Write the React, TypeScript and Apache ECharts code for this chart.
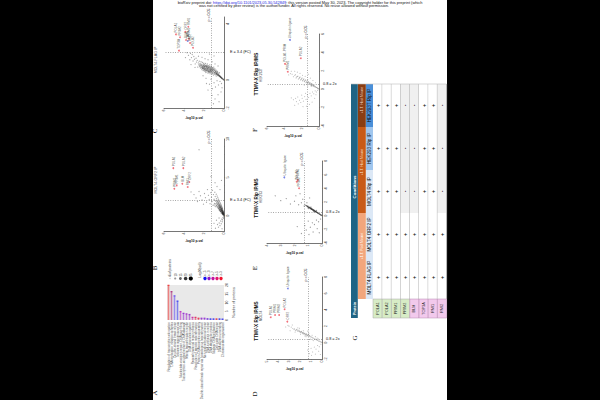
import React, { useEffect, useRef } from "react";
import * as echarts from "echarts";

const FONT = "Liberation Sans";

// ---- panel C (FLAG IP): [-log10 p, log2 FC]
const cloudC = [
  [0.02,0.0],[0.05,0.02],[0.08,0.05],[0.1,0.06],[0.13,0.08],[0.16,0.1],[0.19,0.13],[0.22,0.14],[0.25,0.16],[0.28,0.19],[0.31,0.22],[0.34,0.2],[0.37,0.25],[0.4,0.27],[0.43,0.3],[0.46,0.26],[0.5,0.33],
  [0.45,0.52],[0.52,0.41],[0.55,0.36],[0.58,0.49],[0.61,0.31],[0.64,0.58],[0.67,0.44],[0.7,0.37],[0.72,0.65],[0.75,0.52],[0.78,0.28],[0.8,0.47],[0.82,0.72],[0.85,0.6],[0.87,0.38],[0.9,0.55],[0.92,0.81],[0.94,0.43],[0.97,0.68],[1.0,0.5],
  [1.02,0.92],[1.05,0.35],[1.07,0.75],[1.1,0.62],[1.12,0.46],[1.15,0.88],[1.17,0.56],[1.2,0.7],[1.22,0.41],[1.25,1.0],[1.27,0.64],[1.3,0.79],[1.32,0.52],[1.35,0.93],[1.37,0.68],[1.4,0.44],[1.42,1.08],[1.45,0.76],[1.47,0.6],[1.5,0.87],
  [1.52,0.55],[1.55,1.02],[1.57,0.72],[1.6,0.49],[1.62,0.95],[1.65,0.66],[1.67,1.14],[1.7,0.8],[1.72,0.58],[1.75,1.0],[1.77,0.71],[1.8,0.9],[1.82,0.53],[1.85,1.18],[1.87,0.77],[1.9,0.98],[1.92,0.65],[1.95,1.1],[1.97,0.84],[2.0,0.72],
  [2.02,1.2],[2.05,0.93],[2.08,0.67],[2.1,1.05],[2.13,0.82],[2.16,1.25],[2.18,0.98],[2.21,0.74],[2.24,1.12],[2.27,0.9],[2.3,1.3],[2.33,1.03],[2.36,0.85],[2.4,1.18],[2.44,0.96],[2.48,1.34],[2.52,1.08],[2.57,1.22],[2.62,0.92],[2.68,1.4],
  [2.75,1.28],[2.8,1.55],[2.88,1.15],[2.95,1.48],[3.02,1.68],[3.1,1.36],[3.18,1.82],[3.25,1.6],[3.35,1.9],[3.42,1.45],[3.55,1.76],[3.7,1.95],[3.85,1.6],
  [2.2,1.62],[2.55,1.7],[1.9,1.52],[1.6,1.45],[1.2,1.3],[0.9,1.15],[0.6,1.0],[2.9,0.9],[3.3,1.1],[1.0,1.72],[1.45,1.85],
  [0.25,-0.25],[0.4,-0.1],[0.55,-0.35],[0.7,-0.05],[0.85,-0.5],[1.0,-0.2],[1.15,-0.62],[1.3,0.05],[1.45,-0.3],[1.6,-0.72],[1.8,0.12],[0.3,-0.85],[0.6,-1.05],[0.9,-1.35],[1.2,-1.1],[0.5,-1.55],[1.05,-1.7],[0.2,-0.55],[1.75,-0.25],[2.1,0.3],
  [0.62,0.42],[0.68,0.55],[0.74,0.4],[0.79,0.61],[0.84,0.5],[0.89,0.66],[0.93,0.53],[0.98,0.74],[1.03,0.58],[1.08,0.83],[1.13,0.67],[1.18,0.51],[1.23,0.77],[1.28,0.58],[1.33,0.86],[1.38,0.71],[1.43,0.55],[1.48,0.96],[1.53,0.81],[1.58,0.63],[1.63,0.75],[1.68,0.92],[1.73,0.69],[1.78,1.06],[1.83,0.82],[1.88,0.62],[1.93,0.92],[1.98,1.02],[2.03,0.79],[2.08,1.13],[2.14,0.91],[2.19,0.84],[2.25,1.04],[2.31,0.95],[2.37,1.12],[2.43,1.06],
  [1.11,0.72],[1.21,0.86],[1.31,0.69],[1.41,0.83],[1.51,0.7],[1.61,0.86],[1.71,0.73],[1.81,0.97],[1.91,0.8],[2.01,0.88],[2.11,0.97],[1.36,0.6],[1.46,0.92],[1.56,0.61],[1.66,1.02],[1.76,0.85],[1.86,1.04],[1.96,0.74],[2.06,1.02],[2.16,0.86],[1.16,0.78],[1.26,0.92],[1.56,0.9],[1.74,0.95],[1.94,0.96],[1.44,0.65],[1.64,0.83],[1.84,0.7],[2.04,0.84],[1.34,0.77],
  [0.24,0.11],[0.3,0.16],[0.36,0.22],[0.41,0.23],[0.47,0.31],[0.53,0.3],[0.59,0.38],[0.65,0.36],[0.71,0.44],[0.76,0.46],
];
const hitsC: any[] = [
  ["POLA1",4.8,3.26,"r"],["PRIM2",4.4,3.05,"r"],["TOP3A",4.5,2.1,"r"],["ORF2",3.87,3.45,"r"],["RMI1",3.57,3.8,"r"],
  ["BLM",3.8,2.86,"r"],["PRIM1",3.5,2.95,"r"],["CAPN",3.63,2.78,"b"],["RMI2",3.4,2.64,"r"],["POLA2",3.1,2.3,"r"],
];

// ---- panel B (ORF2 IP)
const cloudB = [
  [0.01,0.0],[0.03,0.1],[0.05,0.2],[0.04,0.32],[0.07,0.42],[0.06,0.55],[0.09,0.28],[0.1,0.65],[0.11,0.12],[0.12,0.48],[0.13,0.78],[0.14,0.35],[0.15,0.92],[0.16,0.58],[0.18,0.22],[0.18,1.05],[0.2,0.72],[0.21,0.44],[0.22,1.18],[0.23,0.86],[0.25,1.3],[0.26,0.6],[0.27,1.0],[0.28,0.33],[0.3,1.42],[0.31,0.8],[0.32,1.15],[0.34,1.55],[0.35,0.55],[0.36,0.95],[0.38,1.28],[0.39,1.7],[0.4,0.7],[0.42,1.08],[0.44,1.45],[0.45,1.85],[0.47,0.88],[0.48,1.22],[0.5,2.0],[0.52,1.6],[0.53,1.0],[0.55,1.36],[0.57,2.15],[0.58,1.78],[0.6,1.15],[0.62,2.35],[0.64,1.5],[0.66,1.95],[0.68,2.55],[0.7,1.25],[0.72,1.7],[0.75,2.2],[0.78,2.8],[0.8,1.4],[0.85,1.9],[0.88,2.5],[0.92,3.05],[0.95,1.6],[1.0,2.15],[1.05,2.75],[1.1,1.35],[1.15,3.3],[1.2,1.85],[1.25,2.4],[1.32,3.0],[1.4,1.55],[1.48,2.1],[1.55,2.65],[1.65,3.4],[1.75,1.75],[1.85,2.35],[1.95,2.9],[2.05,1.5],[2.2,2.05],[2.35,2.6],[2.5,3.15],[2.65,1.85],[2.8,2.3],[3.0,2.75],[3.3,3.1],[0.4,3.4],[0.7,3.8],[0.25,4.6],[0.9,4.3],[1.3,5.1],[2.5,8.6],
  [0.03,-0.15],[0.06,-0.35],[0.1,-0.25],[0.14,-0.55],[0.18,-0.8],[0.22,-0.45],[0.28,-1.05],[0.33,-0.7],[0.4,-1.3],[0.48,-0.95],[0.55,-1.5],[0.65,-1.15],[0.75,-0.6],[0.85,-1.65],[1.0,-1.0],[0.2,-1.7],[0.5,-0.3],
  [0.02,0.18],[0.04,0.06],[0.06,0.14],[0.08,0.26],[0.09,0.38],[0.11,0.3],[0.12,0.2],[0.13,0.55],[0.15,0.42],[0.16,0.27],[0.17,0.68],[0.19,0.5],[0.2,0.36],[0.22,0.62],[0.23,0.78],[0.24,0.46],[0.26,0.92],[0.27,0.7],[0.29,0.54],[0.3,1.06],[0.31,0.62],[0.33,0.85],[0.34,1.22],[0.36,0.72],[0.37,1.02],[0.38,0.6],[0.41,1.36],[0.43,0.82],[0.45,1.16],[0.46,0.66],[0.49,1.5],[0.51,0.95],[0.54,1.25],[0.56,1.66],[0.59,0.98],[0.61,1.42],[0.63,1.82],[0.67,1.1],[0.7,1.58],[0.74,1.3],[0.77,1.9],[0.82,1.55],[0.87,1.18],[0.93,2.0],[0.98,1.4],
  [0.03,0.24],[0.05,0.38],[0.07,0.2],[0.08,0.5],[0.1,0.15],[0.11,0.44],[0.13,0.32],[0.14,0.66],[0.16,0.44],[0.17,0.86],[0.19,0.32],[0.21,0.98],[0.24,0.7],[0.28,0.85],[0.32,0.5],[0.35,1.1],[0.39,0.85],[0.43,1.3],[0.47,1.05],[0.5,0.8],
];
const hitsB: any[] = [
  ["POLA1",5.07,6.2,"r"],["POLA2",4.07,6.2,"r"],["ORF2",3.47,4.4,"r"],["BLM",4.17,4.17,"r"],
  ["PRIM1",4.73,3.95,"r"],["PRIM2",4.97,3.5,"r"],["RMI1",3.63,3.73,"r"],
];

// ---- panel F (HEK293T Rip IP)
const cloudF = [
  [0.03,0.03],[0.08,0.05],[0.13,0.1],[0.18,0.12],[0.24,0.17],[0.3,0.2],[0.36,0.18],[0.42,0.28],[0.48,0.3],[0.55,0.26],[0.62,0.4],[0.7,0.36],[0.78,0.48],[0.85,0.42],[0.93,0.6],[1.0,0.52],[1.08,0.68],[1.15,0.55],[1.24,0.75],[1.32,0.62],[1.4,0.85],[1.5,0.7],[1.6,0.95],[1.7,0.82],[1.8,1.05],[1.9,0.9],[2.0,1.15],[2.12,1.0],[2.25,1.25],[2.38,1.1],[2.5,1.38],[2.65,1.22],[2.8,1.5],[2.95,1.35],[3.1,1.62],[3.3,1.7],
  [0.4,0.7],[0.7,0.95],[1.0,1.2],[1.3,1.05],[1.6,1.4],[1.9,1.5],[2.2,1.72],[2.5,1.85],[2.8,1.95],[3.2,1.95],[3.5,1.55],[1.2,1.62],[0.9,0.3],[1.3,0.35],[1.7,0.45],
  [0.15,-0.12],[0.3,-0.3],[0.45,-0.18],[0.6,-0.5],[0.75,-0.3],[0.9,-0.72],[1.05,-0.45],[1.2,-0.9],[1.35,-0.62],[1.5,-1.1],[1.65,-0.8],[1.8,-1.3],[1.95,-1.0],[2.1,-1.45],[2.25,-1.2],[2.4,-1.6],[2.6,-1.35],[2.8,-1.75],[2.95,-1.15],[0.5,-1.0],[0.8,-1.4],[1.1,-1.65],[1.45,-1.85],[1.85,-1.9],[3.2,-0.95],[2.45,-0.85],
  [0.56,0.42],[0.66,0.33],[0.74,0.55],[0.82,0.4],[0.88,0.62],[0.96,0.45],[1.04,0.72],[1.12,0.6],[1.2,0.82],[1.28,0.7],[1.36,0.92],[1.45,0.76],[1.55,1.02],[1.65,0.88],[1.75,1.12],[1.85,0.96],[1.95,1.22],[2.06,1.06],[2.18,1.32],[2.3,1.18],[2.44,1.42],[2.58,1.32],[2.72,1.58],[0.35,-0.6],[1.55,-0.45],[2.0,-0.65],[2.7,-1.0],
];
const hitsF: any[] = [
  ["Ubiquitin ligase",3.35,5.36,"b"],["POLA2",2.1,3.37,"r"],["POLA1-PRIM",3.92,2.75,"r"],["PRIM1",3.6,1.9,"r"],
];

// ---- panel E (HEK293 Rip IP)
const cloudE = [
  [0.02,0.02],[0.05,0.06],[0.08,0.1],[0.1,0.13],[0.13,0.17],[0.16,0.2],[0.19,0.24],[0.21,0.27],[0.24,0.31],[0.27,0.34],[0.3,0.38],[0.32,0.41],[0.35,0.45],[0.38,0.48],[0.41,0.52],[0.43,0.55],[0.46,0.59],[0.49,0.62],[0.52,0.66],[0.54,0.69],[0.57,0.73],[0.6,0.76],[0.63,0.8],[0.65,0.83],[0.68,0.87],[0.71,0.9],[0.74,0.94],[0.76,0.97],[0.79,1.01],[0.82,1.04],[0.85,1.08],[0.87,1.11],[0.9,1.15],[0.93,1.18],[0.96,1.22],[1.0,1.27],[1.04,1.31],[1.08,1.37],[1.13,1.44],[1.18,1.5],[1.24,1.58],
  [0.4,0.75],[0.6,0.58],[0.8,1.25],[1.0,1.05],[1.3,1.4],[1.5,1.9],[1.7,1.6],[2.0,2.1],[2.3,1.7],[2.6,2.5],[3.0,2.2],[1.4,2.4],[1.1,1.9],[0.9,2.6],[1.9,2.9],[1.6,3.2],[3.4,2.9],
  [0.1,-0.5],[0.25,-0.9],[0.4,-0.65],[0.55,-1.3],[0.7,-1.05],[0.85,-1.7],[1.0,-0.8],[1.15,-2.1],[1.25,-1.45],[0.35,-1.9],[0.65,-2.4],[0.95,-2.75],[0.2,-2.5],[1.5,-2.6],[1.8,-1.6],
  [0.31,0.42],[0.37,0.52],[0.44,0.61],[0.5,0.69],[0.56,0.79],[0.62,0.86],[0.69,0.95],[0.75,1.03],[0.81,1.11],[0.88,1.19],[0.94,1.27],[1.02,1.37],[1.1,1.47],[0.48,0.57],[0.58,0.69],[0.67,0.82],[0.77,0.92],[0.86,1.02],[0.97,1.16],[1.06,1.3],
];
const hitsE: any[] = [
  ["Ubiquitin ligase",2.74,5.6,"b"],["POLA1",1.77,5.2,"r"],["POLA2",1.84,4.97,"r"],["PRIM1",1.67,4.0,"r"],
];

// ---- panel D (MOLT4 Rip IP)
const cloudD = [
  [0.03,0.02],[0.1,0.08],[0.18,0.12],[0.25,0.18],[0.32,0.2],[0.4,0.28],[0.48,0.33],[0.55,0.36],[0.62,0.43],[0.7,0.47],[0.78,0.55],[0.85,0.58],[0.92,0.65],[1.0,0.7],[1.08,0.72],[1.15,0.8],[1.22,0.82],[1.3,0.9],[1.38,0.92],[1.45,1.0],[1.52,1.03],[1.6,1.1],[1.68,1.12],[1.75,1.2],[1.82,1.22],[1.9,1.3],[1.98,1.33],[2.05,1.4],[2.15,1.42],[2.25,1.52],[2.35,1.55],[2.5,1.68],[2.65,1.72],[2.8,1.88],[3.0,2.0],[3.1,2.1],
  [0.6,0.72],[0.9,0.9],[1.2,1.12],[1.45,0.72],[1.7,1.45],[1.95,1.02],[2.2,1.8],[2.45,1.28],[2.7,2.15],[3.3,1.9],[0.45,0.55],[1.05,0.42],[1.55,0.8],[2.05,1.75],[1.3,1.4],[0.8,0.25],[0.35,0.45],[2.9,1.45],
  [0.1,-0.2],[0.25,-0.5],[0.4,-0.35],[0.55,-0.8],[0.7,-0.55],[0.85,-1.15],[1.0,-0.7],[1.15,-1.35],[0.3,-1.05],[0.6,-1.4],[0.95,-1.55],[1.3,-0.9],[0.15,-1.45],
  [1.12,0.86],[1.26,0.96],[1.34,0.84],[1.42,1.06],[1.48,0.92],[1.56,1.14],[1.64,1.02],[1.72,1.24],[1.79,1.1],[1.86,1.36],[1.94,1.22],[2.02,1.3],[2.1,1.52],[2.2,1.38],[2.3,1.62],[2.4,1.46],[2.55,1.58],
];
const hitsD: any[] = [
  ["Ubiquitin ligase",3.1,6.6,"b"],["POLA2",3.4,4.06,"r"],["PRIM1",4.27,3.37,"r"],["PRIM2",3.9,3.37,"r"],
  ["POLA1",4.66,3.1,"r"],["ORF2",3.15,2.56,"r"],
];

// ---- panel A (enrichment bars)
const goTerms = [
  "Regulation of transcription elongation",
  "DNA replication initiation complex",
  "Double-strand break repair",
  "Telomere maintenance via",
  "Nucleotide-excision repair, DNA gap filling",
  "Transcription-coupled repair of DNA damage",
  "Mitotic recombination repair",
  "DNA strand elongation",
  "Recombinational repair process",
  "Resolution of meiotic recombination",
  "Protein-DNA complex assembly",
  "Double-strand break repair via homologous recombination",
  "Non-recombinational repair",
  "DNA synthesis in repair",
  "DNA metabolic process",
  "Nuclear DNA replication",
  "Cell cycle DNA repair",
  "DNA duplex unwinding",
  "Chromosome organization",
];
const goValues = [19.8,16.2,13.8,10.8,4.8,3.8,3.5,3.1,1.5,1.5,1.0,1.0,1.0,0.7,0.6,0.6,0.6,0.6,0.5];
const goColors = ["#ef2b2b","#a61e73","#5a3ff0","#2a2af0","#b81ec0","#8c1fd0","#9a20c8","#8f20c8","#c61e9a","#e0204f","#e82040","#8c20c8","#8a20d0","#6a20e0","#2020f0","#2a20f0","#e02030","#2020f0","#2020f0"];
const sizeLegend = ["5","10","15","20","25"];
const colorLegend = ["1e-15","1e-10","1e-7","1e-5","1e-3"];
const colorLegendFill = ["#1414f0","#8a14c8","#c014a0","#e01470","#f01430"];

// ---- panel G (table)
const proteins = ["POLA1","POLA2","PRIM1","PRIM2","BLM","TOP3A","RMI1","RMI2"];
const conditions = ["MOLT4 FLAG IP","MOLT4 ORF2 IP","MOLT4 Rip IP","HEK293 Rip IP","HEK293T Rip IP"];
const conditionFill = ["#dce8f6","#dce8f6","#dce8f6","#a0c6ee","#4a8fd8"];
const groupFill = ["#f2a67c","#f2a67c","#c85a17","#c85a17","#8a3d12"];
const proteinFill = ["#d7ecc6","#d7ecc6","#d7ecc6","#d7ecc6","#f2c9ec","#f2c9ec","#f2c9ec","#f2c9ec"];
// per protein, detected (1) or not (0), in the order of `conditions`
const detected = [
  [1,1,1,1,1],[1,1,1,1,1],[1,1,1,1,1],[1,1,0,0,0],
  [1,1,0,0,0],[1,1,1,1,1],[1,1,1,1,1],[1,1,0,0,0],
];

const panels = [
  { cloud: cloudC, hits: hitsC, left: 164, top: 17, w: 60, h: 91, xMax: 6, xInt: 2, yMin: -2, yMax: 4.5, yInt: 2, yLabelEvery: 2, hideY: 2, fcLine: 2, fc: "E = 3.4 (FC)", fcDist: 6, pLine: 1.3, size: 1.2, op: 0.4 },
  { cloud: cloudB, hits: hitsB, left: 164, top: 139, w: 60, h: 92, xMax: 6, xInt: 2, yMin: -2, yMax: 10, yInt: 1, yLabelEvery: 5, hideY: 99, fcLine: 2, fc: "E = 3.4 (FC)", fcDist: 6, pLine: 1.3, size: 1.2, op: 0.4 },
  { cloud: cloudF, hits: hitsF, left: 267, top: 34, w: 52, h: 92, xMax: 6, xInt: 2, yMin: -4, yMax: 6, yInt: 2, yLabelEvery: 2, hideY: 99, fcLine: 0.55, fc: "0.8 = 2x", fcDist: 4, pLine: 1.3, size: 1, op: 0.32 },
  { cloud: cloudE, hits: hitsE, left: 267, top: 161, w: 55, h: 82, xMax: 4, xInt: 1, yMin: -4, yMax: 8, yInt: 2, yLabelEvery: 2, hideY: 99, fcLine: 0.55, fc: "0.8 = 2x", fcDist: 4, pLine: 1.3, size: 1.2, op: 0.45 },
  { cloud: cloudD, hits: hitsD, left: 267, top: 277, w: 55, h: 82, xMax: 5, xInt: 1, yMin: -2, yMax: 8, yInt: 2, yLabelEvery: 2, hideY: 99, fcLine: 0.45, fc: "0.8 = 2x", fcDist: 4, pLine: 1.26, size: 1, op: 0.32 },
];

const rotText = (text: string, x: number, y: number, fontSize: number, extra: any = {}) => ({
  type: "text", x, y, rotation: Math.PI / 2, z: 5,
  style: { text, fill: extra.fill || "#111", fontSize, fontFamily: extra.family || FONT, fontWeight: extra.weight || "normal", align: "center", verticalAlign: "middle" },
});

function buildOption() {
  const grid: any[] = [];
  const xAxis: any[] = [];
  const yAxis: any[] = [];
  const series: any[] = [];
  const axisLine = { onZero: false, lineStyle: { color: "#666", width: 0.9 } };

  panels.forEach((p, i) => {
    grid.push({ left: p.left, top: p.top, width: p.w, height: p.h, outerBoundsMode: "none" });
    xAxis.push({
      type: "value", gridIndex: i, inverse: true, min: 0, max: p.xMax, interval: p.xInt,
      axisLine, axisTick: { length: 1, lineStyle: { color: "#666", width: 0.5 } }, splitLine: { show: false },
      axisLabel: { fontSize: 3.6, margin: 1.5, color: "#333", fontFamily: FONT, rotate: 90 },
      name: "-log10 p-val", nameLocation: "middle", nameGap: 8,
      nameTextStyle: { fontSize: 3.2, color: "#111", fontFamily: FONT, fontWeight: "bold" },
    });
    yAxis.push({
      type: "value", gridIndex: i, position: "right", min: p.yMin, max: p.yMax, interval: p.yInt,
      axisLine, axisTick: { length: 1, lineStyle: { color: "#666", width: 0.5 } }, splitLine: { show: false },
      axisLabel: {
        fontSize: 3.8, margin: 2, color: "#333", fontFamily: FONT, rotate: 90, showMaxLabel: Number.isInteger(p.yMax),
        formatter: (v: number) => (v % p.yLabelEvery === 0 && v !== p.hideY ? String(v) : ""),
      },
    });
    series.push({
      type: "scatter", xAxisIndex: i, yAxisIndex: i, symbolSize: p.size, silent: true, data: p.cloud,
      itemStyle: { color: "#222", opacity: p.op },
      markLine: {
        silent: true, symbol: "none", animation: false,
        lineStyle: { type: [0.8, 1.6], color: "#666", width: 0.7 },
        data: [
          { xAxis: p.pLine, label: { show: true, formatter: "p = 0.05", position: "end", rotate: 90, fontSize: 3.6, color: "#111", fontFamily: FONT, distance: 2 } },
          { yAxis: p.fcLine, label: { show: true, formatter: p.fc, position: "start", rotate: 0, fontSize: 3.8, color: "#111", fontFamily: FONT, distance: p.fcDist } },
        ],
      },
    });
    series.push({
      type: "scatter", xAxisIndex: i, yAxisIndex: i, symbolSize: 1.8, silent: true,
      data: p.hits.map((h: any[]) => ({ name: h[0], value: [h[1], h[2]], itemStyle: { color: h[3] === "b" ? "#5566e0" : "#ee4d5a" } })),
      label: { show: true, formatter: "{b}", position: "top", rotate: 90, distance: 1, fontSize: 3, color: "#333", fontFamily: FONT, align: "left", verticalAlign: "middle" },
    });
  });

  // ---- enrichment bars
  const bi = grid.length;
  grid.push({ left: 167, top: 285, width: 57, height: 35, backgroundColor: "#e9e9e9", show: true, borderWidth: 0, outerBoundsMode: "none" });
  xAxis.push({
    type: "category", gridIndex: bi, data: goTerms, axisTick: { show: false },
    axisLine: { show: false },
    axisLabel: { interval: 0, rotate: 90, fontSize: 3, margin: 2, color: "#555", fontFamily: FONT },
  });
  yAxis.push({
    type: "value", gridIndex: bi, position: "right", min: 0, max: 20, interval: 5, splitLine: { show: false },
    axisLine: { show: false }, axisTick: { length: 1, lineStyle: { color: "#555", width: 0.5 } },
    axisLabel: { fontSize: 3.4, margin: 1.5, rotate: 90, color: "#444", fontFamily: FONT },
    name: "Number of proteins", nameLocation: "middle", nameRotate: 90, nameGap: 8,
    nameTextStyle: { fontSize: 3.6, color: "#444", fontFamily: FONT },
  });
  series.push({
    type: "bar", xAxisIndex: bi, yAxisIndex: bi, barWidth: 1.6, silent: true,
    data: goValues.map((v, i) => ({ value: v, itemStyle: { color: goColors[i], opacity: 0.55 } })),
  });
  series.push({
    type: "scatter", xAxisIndex: bi, yAxisIndex: bi, symbol: "rect", symbolSize: [1.9, 1.3], silent: true,
    data: goValues.map((v, i) => ({ value: [i, v], itemStyle: { color: goColors[i] } })),
  });

  // ---- table
  const ti = grid.length;
  const tL = 373, tT = 84, tW = 73.6, tH = 215;
  grid.push({ left: tL, top: tT, width: tW, height: tH, outerBoundsMode: "none" });
  xAxis.push({ type: "category", gridIndex: ti, data: proteins, axisLine: { show: false }, axisTick: { show: false }, axisLabel: { show: false }, splitLine: { show: false } });
  yAxis.push({ type: "category", gridIndex: ti, data: conditions, axisLine: { show: false }, axisTick: { show: false }, axisLabel: { show: false }, splitLine: { show: false } });

  const cellData: number[][] = [];
  detected.forEach((row, i) => row.forEach((d, j) => cellData.push([i, j, d])));
  series.push({
    type: "custom", xAxisIndex: ti, yAxisIndex: ti, silent: true, clip: false, data: cellData,
    encode: { x: 0, y: 1 },
    renderItem: (_: any, api: any) => {
      const c = api.coord([api.value(0), api.value(1)]);
      const s = api.size([1, 1]);
      const present = api.value(2) === 1;
      const x0 = c[0] - s[0] / 2, y0 = c[1] - s[1] / 2;
      return {
        type: "group",
        children: [
          { type: "rect", shape: { x: x0, y: y0, width: s[0], height: s[1] }, style: { fill: present ? "#fff" : "#f0f0f0" } },
          { type: "line", shape: { x1: x0 + s[0], y1: y0, x2: x0 + s[0], y2: y0 + s[1] }, style: { stroke: "#a8a8a8", lineWidth: 0.9 } },
          { type: "text", x: c[0], y: c[1], rotation: Math.PI / 2, style: { text: present ? "+" : "-", fill: "#111", fontSize: 5, fontFamily: FONT, fontWeight: "bold", align: "center", verticalAlign: "middle" } },
        ],
      };
    },
  });
  // condition header cells (blue band and coloured group band)
  series.push({
    type: "custom", xAxisIndex: ti, yAxisIndex: ti, silent: true, clip: false,
    data: conditions.map((_, j) => [0, j]), encode: { x: 0, y: 1 },
    renderItem: (_: any, api: any) => {
      const j = api.value(1);
      const c = api.coord([0, j]);
      const s = api.size([1, 1]);
      const x1 = c[0] - s[0] / 2;
      const y0 = c[1] - s[1] / 2;
      return {
        type: "group",
        children: [
          { type: "rect", shape: { x: x1 - 7.2, y: y0, width: 7.2, height: s[1] }, style: { fill: conditionFill[j] } },
          { type: "rect", shape: { x: x1 - 15.2, y: y0, width: 8, height: s[1] }, style: { fill: groupFill[j] } },
          { type: "rect", shape: { x: x1 - 22, y: y0, width: 6.8, height: s[1] }, style: { fill: "#1f6485" } },
          { type: "text", x: x1 - 3.6, y: c[1], rotation: Math.PI / 2, style: { text: conditions[j], fill: "#111", fontSize: 4.6, fontFamily: FONT, align: "center", verticalAlign: "middle" } },
        ],
      };
    },
  });
  // protein name cells
  series.push({
    type: "custom", xAxisIndex: ti, yAxisIndex: ti, silent: true, clip: false,
    data: proteins.map((_, i) => [i, 0]), encode: { x: 0, y: 1 },
    renderItem: (_: any, api: any) => {
      const i = api.value(0);
      const c = api.coord([i, 0]);
      const s = api.size([1, 1]);
      const y0 = c[1] + s[1] / 2;
      return {
        type: "group",
        children: [
          { type: "rect", shape: { x: c[0] - s[0] / 2, y: y0, width: s[0], height: 19 }, style: { fill: proteinFill[i], stroke: i > 3 ? "#b58ab0" : "#a8a8a8", lineWidth: 0.5 } },
          { type: "text", x: c[0], y: y0 + 9.5, rotation: Math.PI / 2, style: { text: proteins[i], fill: "#222", fontSize: 3.8, fontFamily: FONT, align: "center", verticalAlign: "middle" } },
        ],
      };
    },
  });

  const graphic: any[] = [
    { type: "rect", z: -10, shape: { x: 0, y: 0, width: 153, height: 400 }, style: { fill: "#000" } },
    { type: "rect", z: -10, shape: { x: 447, y: 0, width: 153, height: 400 }, style: { fill: "#000" } },
    {
      type: "text", x: 300, y: 2, z: 5,
      style: {
        text: "bioRxiv preprint doi: {b|https://doi.org/10.1101/2023.05.30.542849}; this version posted May 30, 2023. The copyright holder for this preprint (which",
        rich: { b: { fill: "#1a1ae0", fontSize: 3.9, fontFamily: FONT } },
        fill: "#111", fontSize: 3.9, fontFamily: FONT, align: "center", verticalAlign: "middle",
      },
    },
    { type: "text", x: 294, y: 5.5, z: 5, style: { text: "was not certified by peer review) is the author/funder. All rights reserved. No reuse allowed without permission.", fill: "#111", fontSize: 3.9, fontFamily: FONT, align: "center", verticalAlign: "middle" } },

    // panel letters
    rotText("A", 155, 393, 7, { family: "Liberation Serif" }),
    rotText("B", 155, 268, 7, { family: "Liberation Serif" }),
    rotText("C", 155, 131, 7, { family: "Liberation Serif" }),
    rotText("D", 255, 394, 7, { family: "Liberation Serif" }),
    rotText("E", 255, 268, 7, { family: "Liberation Serif" }),
    rotText("F", 255, 130, 7, { family: "Liberation Serif" }),
    rotText("G", 355, 338, 7, { family: "Liberation Serif" }),

    // scatter titles
    rotText("MOLT4-FLAG IP", 156, 60, 3.6, { fill: "#555" }),
    rotText("MOLT4-ORF2 IP", 156, 180, 3.6, { fill: "#555" }),
    rotText("TTMV-X Rip IP/MS", 256, 74, 5, { weight: "bold" }),
    rotText("HEK293T", 260.5, 75, 3.2, { fill: "#444" }),
    rotText("TTMV-X Rip IP/MS", 256, 198, 4.6, { weight: "bold" }),
    rotText("HEK293", 260.5, 197, 3.2, { fill: "#444" }),
    rotText("TTMV-X Rip IP/MS", 256, 321, 4.6, { weight: "bold" }),
    rotText("MOLT4", 260.5, 316, 3.2, { fill: "#444" }),

    // table header band labels
    rotText("Conditions", 354.6, 187, 4.4, { fill: "#fff", weight: "bold" }),
    { type: "rect", z: 4, shape: { x: 351, y: 299, width: 6.8, height: 19 }, style: { fill: "#1f6485" } },
    rotText("Protein", 354.6, 308.5, 3.8, { fill: "#fff", weight: "bold" }),
    rotText("+1.T. Host Mouse", 361.8, 100, 3.4, { fill: "#f4dccb" }),
    rotText("+1.T. Host Mouse", 361.8, 162, 3.4, { fill: "#fbe3d2" }),
    rotText("+1.T. Pool Mouse", 361.8, 246, 3.4, { fill: "#fff" }),
    { type: "line", z: 4, shape: { x1: 351, y1: 84, x2: 446.6, y2: 84 }, style: { stroke: "#bdbdbd", lineWidth: 0.6 } },

    // bar panel legends
    rotText("# of proteins", 170, 268, 3.2, { fill: "#333" }),
    rotText("Log10(adj)", 200, 270, 3.2, { fill: "#333" }),
  ];
  sizeLegend.forEach((t, i) => {
    const x = 170 + i * 5.2;
    graphic.push(rotText(t, x, 275, 2.8, { fill: "#444" }));
    graphic.push({ type: "circle", z: 5, shape: { cx: x, cy: 278.5, r: 0.7 + i * 0.35 }, style: { fill: ["#ccc", "#999", "#666", "#333", "#000"][i] } });
  });
  colorLegend.forEach((t, i) => {
    const x = 205 + i * 4;
    graphic.push(rotText(t, x, 274, 2.6, { fill: "#444" }));
    graphic.push({ type: "circle", z: 5, shape: { cx: x, cy: 278.5, r: 1.7 }, style: { fill: colorLegendFill[i] } });
  });

  return { animation: false, backgroundColor: "#fff", grid, xAxis, yAxis, series, graphic };
}

export default function App() {
  const ref = useRef<HTMLDivElement>(null);
  useEffect(() => {
    const chart = echarts.init(ref.current!, undefined, { renderer: "svg" });
    chart.setOption(buildOption() as any);
    return () => chart.dispose();
  }, []);
  return <div ref={ref} style={{ position: "fixed", left: 0, top: 0, width: 600, height: 400 }} />;
}
